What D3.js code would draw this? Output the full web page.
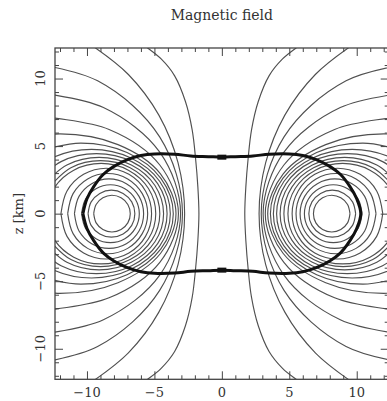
<!DOCTYPE html>
<html>
<head>
<meta charset="utf-8">
<script src="https://cdn.jsdelivr.net/npm/d3@7"></script>
<style>
  body { margin: 0; background: #fff; }
  text { font-family: "DejaVu Serif", serif; fill: #333; }
</style>
</head>
<body>
<div id="chart"></div>
<script>
// tick values (km)
const xTicks = [-10, -5, 0, 5, 10];
const zTicks = [-10, -5, 0, 5, 10];
const minorTicks = d3.range(-12, 13);

// field lines read off the upper right quadrant, [x, z] in km
// (the picture is symmetric, the other quadrants are mirrored)
const closedLoops = [
  [[6.79, 0], [6.97, 0.68], [7.47, 1.17], [8.15, 1.36], [8.82, 1.17], [9.32, 0.68], [9.5, 0]],
  [[6.45, 0], [6.68, 0.87], [7.32, 1.50], [8.19, 1.74], [9.05, 1.50], [9.69, 0.87], [9.92, 0]],
  [[6.12, 0], [6.41, 1.07], [7.19, 1.85], [8.26, 2.14], [9.33, 1.85], [10.11, 1.07], [10.40, 0]],
  [[5.80, 0], [6.14, 1.28], [7.08, 2.22], [8.37, 2.57], [9.65, 2.22], [10.59, 1.28], [10.93, 0]],
  [[5.50, 0], [5.90, 1.48], [6.98, 2.57], [8.47, 2.97], [9.95, 2.57], [11.03, 1.48], [11.43, 0]],
  [[5.21, 0], [5.66, 1.68], [6.89, 2.91], [8.57, 3.36], [10.25, 2.91], [11.48, 1.68], [11.93, 0]]
];

// lines leaving through the side of the frame
const sideLines = [
  [[4.90, 0], [5.44, 1.86], [6.93, 3.22], [8.95, 3.72], [10.98, 3.22], [12.46, 1.86], [13.0, 0]],
  [[4.60, 0], [5.19, 1.96], [6.80, 3.40], [8.99, 3.92], [11.19, 3.40], [12.79, 1.96]],
  [[4.32, 0], [4.96, 2.08], [6.71, 3.60], [9.10, 4.16], [11.49, 3.60], [13.24, 2.08]],
  [[4.06, 0], [4.76, 2.22], [6.68, 3.85], [9.30, 4.44], [11.92, 3.85], [13.84, 2.22]],
  [[3.82, 0], [4.60, 2.38], [6.74, 4.12], [9.66, 4.76], [12.58, 4.12], [14.72, 2.38]],
  [[3.60, 0], [4.52, 2.61], [7.03, 4.52], [10.45, 5.22], [13.88, 4.52]],
  [[3.40, 0], [4.55, 2.95], [7.70, 5.11], [12.0, 5.90], [16.3, 5.11]],
  [[3.22, 0], [4.60, 3.60], [8.36, 6.23], [13.5, 7.19]],
  [[3.06, 0], [4.59, 4.53], [8.78, 7.85], [14.5, 9.06]],
  [[2.92, 0], [4.61, 5.68], [9.21, 9.83], [15.5, 11.35]]
];

// lines leaving through the top of the frame
const topLines = [
  [[2.76, 0], [3.25, 3.77], [4.67, 7.29], [6.93, 10.30], [9.88, 12.62]],
  [[1.70, 0], [1.78, 2.0], [1.95, 4.1], [2.2, 6.2], [2.7, 8.3], [3.5, 10.2], [4.5, 11.45], [5.5, 12.26], [6.2, 12.75]]
];

// thick boundary, upper right quadrant
const surface = [
  [0, 4.18], [1, 4.22], [2.3, 4.27], [3.5, 4.4], [5, 4.42], [6, 4.3], [7, 4.0],
  [8, 3.5], [8.8, 2.9], [9.5, 2.0], [10.0, 1.1], [10.3, 0]
];
// small markers on the boundary at x = 0
const markers = [[0, 4.18], [0, -4.18]];

const width = 387, height = 401;

const svg = d3.select("#chart")
  .append("svg")
  .attr("width", width)
  .attr("height", height);

const x = d3.scaleLinear().domain([-12.37, 12.37]).range([55, 388.7]);
const z = d3.scaleLinear().domain([-12.26, 12.26]).range([379.3, 48]);

svg.append("defs").append("clipPath").attr("id", "plot-clip")
  .append("rect")
  .attr("x", x(-12.37)).attr("y", z(12.26))
  .attr("width", x(12.37) - x(-12.37))
  .attr("height", z(-12.26) - z(12.26));

// mirror a quadrant line: z -> -z gives the lower half, x -> -x the left ring
function mirrored(pts) {
  const out = [];
  [1, -1].forEach(sx => {
    const upper = pts.map(([a, b]) => [sx * a, b]);
    const lower = pts.slice().reverse().map(([a, b]) => [sx * a, -b]);
    out.push(lower.concat(upper.slice(1)));
  });
  return out;
}

const line = d3.line()
  .x(d => x(d[0]))
  .y(d => z(d[1]))
  .curve(d3.curveCatmullRom.alpha(0.5));

const plot = svg.append("g").attr("clip-path", "url(#plot-clip)");

const allLines = closedLoops.concat(sideLines, topLines);

plot.append("g")
  .attr("class", "field-lines")
  .selectAll("path")
  .data(allLines.flatMap(mirrored))
  .join("path")
  .attr("d", line)
  .attr("fill", "none")
  .attr("stroke", "#505050")
  .attr("stroke-width", 1.15);

// thick surface: top half then bottom half
const surfTop = surface.map(([a, b]) => [-a, b]).reverse().concat(surface.slice(1));
const surfBottom = surfTop.map(([a, b]) => [a, -b]);
plot.append("path")
  .datum(surfTop.concat(surfBottom.slice().reverse().slice(1)))
  .attr("d", line)
  .attr("fill", "none")
  .attr("stroke", "#111")
  .attr("stroke-width", 3);

plot.selectAll("rect.marker")
  .data(markers)
  .join("rect")
  .attr("class", "marker")
  .attr("x", d => x(d[0]) - 4.5)
  .attr("y", d => z(d[1]) - 2.5)
  .attr("width", 9)
  .attr("height", 5)
  .attr("fill", "#111");

// axes
const tickLen = v => (v % 5 === 0 ? 8 : 4);
const axisColor = "#444";

function styleAxis(g) {
  g.select(".domain").remove();
  g.selectAll(".tick line").attr("stroke", axisColor);
}

const axisBottomG = svg.append("g")
  .attr("transform", `translate(0, ${z(-12.26)})`)
  .call(d3.axisBottom(x).tickValues(minorTicks).tickSize(0).tickFormat(""))
  .call(styleAxis);
axisBottomG.selectAll(".tick line").attr("y2", d => -tickLen(d));

const axisTopG = svg.append("g")
  .attr("transform", `translate(0, ${z(12.26)})`)
  .call(d3.axisTop(x).tickValues(minorTicks).tickSize(0).tickFormat(""))
  .call(styleAxis);
axisTopG.selectAll(".tick line").attr("y2", d => tickLen(d));

const axisLeftG = svg.append("g")
  .attr("transform", `translate(${x(-12.37)}, 0)`)
  .call(d3.axisLeft(z).tickValues(minorTicks).tickSize(0).tickFormat(""))
  .call(styleAxis);
axisLeftG.selectAll(".tick line").attr("x2", d => tickLen(d));

const axisRightG = svg.append("g")
  .attr("transform", `translate(${x(12.37)}, 0)`)
  .call(d3.axisRight(z).tickValues(minorTicks).tickSize(0).tickFormat(""))
  .call(styleAxis);
axisRightG.selectAll(".tick line").attr("x2", d => -tickLen(d));

// frame
svg.append("rect")
  .attr("x", x(-12.37)).attr("y", z(12.26))
  .attr("width", x(12.37) - x(-12.37))
  .attr("height", z(-12.26) - z(12.26))
  .attr("fill", "none")
  .attr("stroke", axisColor)
  .attr("stroke-width", 1.3);

const fmt = v => (v < 0 ? "\u2212" + Math.abs(v) : String(v));

svg.append("g").selectAll("text")
  .data(xTicks)
  .join("text")
  .attr("x", d => x(d))
  .attr("y", 397)
  .attr("text-anchor", "middle")
  .attr("font-size", 13)
  .text(fmt);

svg.append("g").selectAll("text")
  .data(zTicks)
  .join("text")
  .attr("transform", d => `translate(45, ${z(d)}) rotate(-90)`)
  .attr("text-anchor", "middle")
  .attr("font-size", 13)
  .text(fmt);

svg.append("text")
  .attr("transform", `translate(23, ${z(0)}) rotate(-90)`)
  .attr("text-anchor", "middle")
  .attr("font-size", 13)
  .text("z [km]");

svg.append("text")
  .attr("x", x(0))
  .attr("y", 20)
  .attr("text-anchor", "middle")
  .attr("font-size", 14)
  .text("Magnetic field");
</script>
</body>
</html>
